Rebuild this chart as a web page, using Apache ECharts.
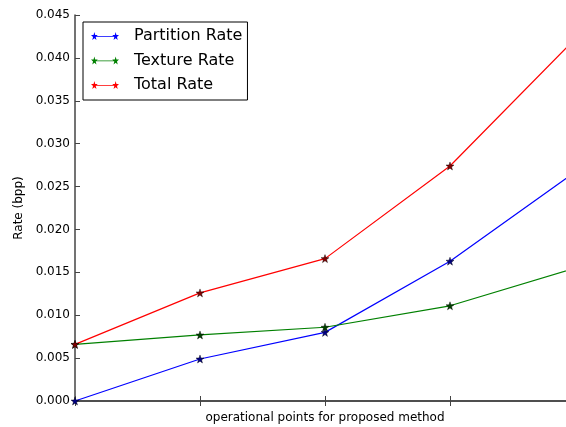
<!DOCTYPE html>
<html>
<head>
<meta charset="utf-8">
<script src="https://cdn.jsdelivr.net/npm/echarts@6/dist/echarts.min.js"></script>
<style>
html, body { margin: 0; padding: 0; background: #fff; }
#chart { width: 566px; height: 427px; }
</style>
</head>
<body>
<div id="chart"></div>
<script>
// Operating points along the x axis
const points = ['1', '2', '3', '4', '5'];
// Rates in bits per pixel
const partitionRate = [0.0000, 0.0049, 0.0080, 0.0163, 0.0267];
const textureRate   = [0.0066, 0.0077, 0.0086, 0.0111, 0.0155];
const totalRate     = [0.0066, 0.0126, 0.0166, 0.0274, 0.0422];
const yTicks = [0, 0.005, 0.010, 0.015, 0.020, 0.025, 0.030, 0.035, 0.040, 0.045];

const FONT = 'DejaVu Sans';

// five-pointed star outline, as an SVG path
function starPath(cx, cy, ro, ri) {
  let d = '';
  for (let k = 0; k < 10; k++) {
    const a = (-90 + k * 36) * Math.PI / 180;
    const r = k % 2 === 0 ? ro : ri;
    d += (k === 0 ? 'M' : 'L') + (cx + r * Math.cos(a)).toFixed(3) + ' ' + (cy + r * Math.sin(a)).toFixed(3);
  }
  return d + 'Z';
}
const STAR = 'path://' + starPath(0, 0, 10, 4);
// legend icon: a line segment with a star at each end
const LEGEND_ICON = 'path://' + starPath(4, 4, 4, 1.6) + starPath(28, 4, 4, 1.6) +
  'M4 3.6L28 3.6L28 4.4L4 4.4Z';

function series(name, data, color, markColor) {
  return {
    name: name,
    type: 'line',
    data: data,
    symbol: STAR,
    symbolSize: 8,
    showSymbol: true,
    lineStyle: { color: color, width: 1.2 },
    itemStyle: { color: markColor, borderColor: '#000', borderWidth: 0.4 },
    emphasis: { disabled: true },
    animation: false,
    clip: false,
    z: 3
  };
}

const chart = echarts.init(document.getElementById('chart'), null, { renderer: 'canvas' });
const tickStyle = { show: true, inside: true, length: 5, lineStyle: { color: '#444', width: 1 } };
const legendItem = (name, color) => ({
  name: name, icon: LEGEND_ICON,
  itemStyle: { color: color, borderWidth: 0, borderColor: color }
});
chart.setOption({
  backgroundColor: '#fff',
  animation: false,
  grid: { left: 75, top: 15, width: 500, height: 386, containLabel: false, outerBoundsMode: 'none' },
  legend: {
    left: 83, top: 22,
    orient: 'vertical',
    itemWidth: 28, itemHeight: 8,
    itemGap: 8.5,
    symbolKeepAspect: false,
    padding: [6, 5, 7, 8],
    borderColor: '#000', borderWidth: 1, borderRadius: 0,
    backgroundColor: '#fff',
    selectedMode: false,
    textStyle: { fontFamily: FONT, fontSize: 16, color: '#000', padding: [0, 0, 0, 10] },
    data: [
      legendItem('Partition Rate', '#0000ff'),
      legendItem('Texture Rate', '#008000'),
      legendItem('Total Rate', '#ff0000')
    ]
  },
  xAxis: [{
    type: 'category',
    data: points,
    boundaryGap: false,
    name: 'operational points for proposed method',
    nameLocation: 'middle',
    nameGap: 11,
    nameTextStyle: { fontFamily: FONT, fontSize: 12, color: '#000' },
    axisLine: { show: true, lineStyle: { color: '#444', width: 1.5 } },
    axisTick: tickStyle,
    axisLabel: { show: false },
    splitLine: { show: false }
  }, {
    type: 'category',
    data: points,
    boundaryGap: false,
    position: 'top',
    axisLine: { show: true, lineStyle: { color: '#444', width: 1.5 } },
    axisTick: tickStyle,
    axisLabel: { show: false },
    splitLine: { show: false }
  }],
  yAxis: [{
    type: 'value',
    min: 0, max: 0.045, interval: 0.005,
    name: 'Rate (bpp)',
    nameLocation: 'middle',
    nameRotate: 90,
    nameGap: 50,
    nameTextStyle: { fontFamily: FONT, fontSize: 12, color: '#000' },
    axisLine: { show: true, lineStyle: { color: '#444', width: 1.5 } },
    axisTick: tickStyle,
    axisLabel: {
      fontFamily: FONT, fontSize: 12, color: '#000', margin: 5,
      formatter: v => yTicks.reduce((b, t) => Math.abs(t - v) < Math.abs(b - v) ? t : b).toFixed(3)
    },
    splitLine: { show: false }
  }, {
    type: 'value',
    min: 0, max: 0.045, interval: 0.005,
    position: 'right',
    axisLine: { show: true, lineStyle: { color: '#444', width: 1.5 } },
    axisTick: tickStyle,
    axisLabel: { show: false },
    splitLine: { show: false }
  }],
  series: [
    series('Partition Rate', partitionRate, '#0000ff', '#000080'),
    series('Texture Rate', textureRate, '#008000', '#004000'),
    series('Total Rate', totalRate, '#ff0000', '#800000')
  ]
});
</script>
</body>
</html>
